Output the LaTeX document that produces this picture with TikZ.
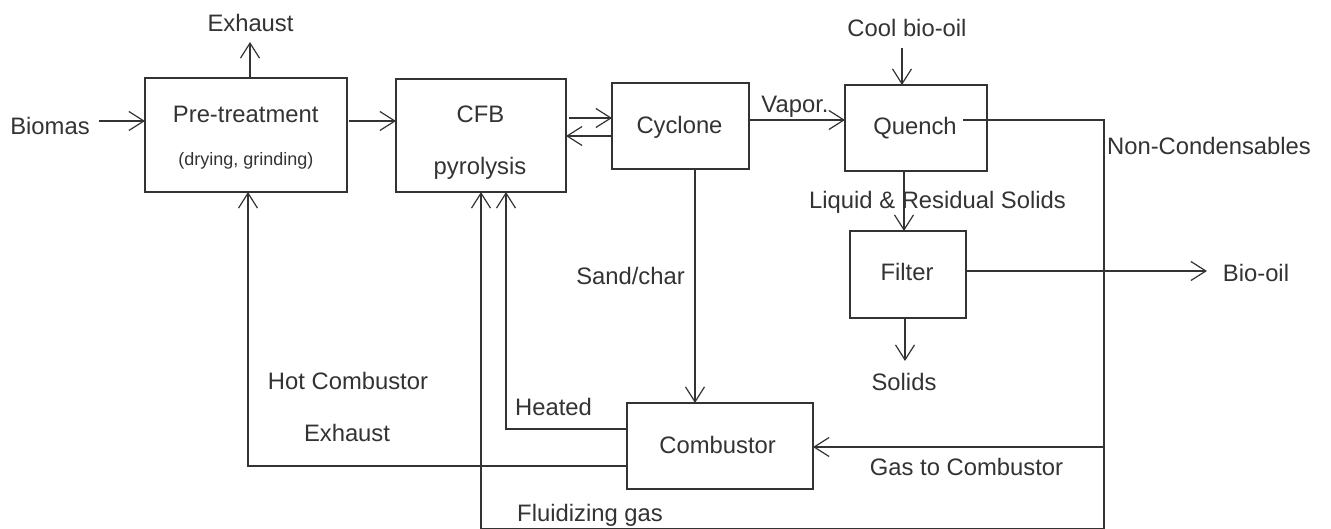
\documentclass[tikz,border=0pt]{standalone}
\usepackage{fontspec}
\setmainfont{Liberation Sans}
\usetikzlibrary{arrows.meta}
\definecolor{ink}{HTML}{333333}
\begin{document}
\begin{tikzpicture}[x=1pt,y=-1pt,
  box/.style={draw=ink,line width=1.3pt,inner sep=0pt,outer sep=0pt},
  con/.style={draw=ink,line width=1.2pt},
  arr/.style={con,-{Straight Barb[length=15pt,width=19pt,line width=1.2pt]}},
  lab/.style={inner sep=0pt,outer sep=0pt,anchor=base,text=ink,font=\fontsize{23.8}{28}\selectfont},
  small/.style={lab,font=\fontsize{18}{22}\selectfont}]
\useasboundingbox[fill=white] (0,0) rectangle (1331,529);

% boxes
\node[box,minimum width=202pt,minimum height=114pt] (pre) at (246,135) {};
\node[box,minimum width=170pt,minimum height=113pt] (cfb) at (481,135.5) {};
\node[box,minimum width=137pt,minimum height=86pt] (cyc) at (680.5,126) {};
\node[box,minimum width=142pt,minimum height=86pt] (quench) at (916,128) {};
\node[box,minimum width=116pt,minimum height=87pt] (filter) at (908,274.5) {};
\node[box,minimum width=186pt,minimum height=86pt] (comb) at (720,446) {};

% box texts
\node[lab] (tpre) at (245.7,123) {Pre-treatment};
\node[small] (tpre2) at (246,166) {(drying, grinding)};
\node[lab] (tcfb) at (480.5,123) {CFB};
\node[lab] (tcfb2) at (480,175) {pyrolysis};
\node[lab] (tcyc) at (679.5,134) {Cyclone};
\node[lab] (tq) at (915,135) {Quench};
\node[lab] (tf) at (907,281) {Filter};
\node[lab] (tc) at (717.6,453) {Combustor};

% labels
\node[lab] (lbio) at (50,135) {Biomas};
\node[lab] (lexh) at (250.5,32) {Exhaust};
\node[lab] (lvap) at (795,113) {Vapor.};
\node[lab] (lcool) at (907,37) {Cool bio-oil};
\node[lab] (lnc) at (1209,155) {Non-Condensables};
\node[lab] (lliq) at (937.5,209) {Liquid \& Residual Solids};
\node[lab] (lbo) at (1256,282) {Bio-oil};
\node[lab] (lsol) at (904,390) {Solids};
\node[lab] (lsand) at (630.5,285) {Sand/char};
\node[lab] (lhot) at (348,389) {Hot Combustor};
\node[lab] (lhot2) at (347,441) {Exhaust};
\node[lab] (lheat) at (553.5,415) {Heated};
\node[lab] (lflu) at (590,521) {Fluidizing gas};
\node[lab] (lgas) at (966.5,475) {Gas to Combustor};

% connector coordinates
\coordinate (bioin) at (99,121);
\coordinate (exh) at (250,42);
\coordinate (p1) at (349,121);
\coordinate (a1) at (569,118);
\coordinate (a2) at (0,136);
\coordinate (v) at (0,120);
\coordinate (cb) at (902,48);
\coordinate (nc1) at (963,120);
\coordinate (nc2) at (1104,120);
\coordinate (nc3) at (1104,528.6);
\coordinate (fl) at (481,528.6);
\coordinate (gs) at (1104,447);
\coordinate (bo) at (1207,271);
\coordinate (sol) at (905,361);
\coordinate (lq) at (904,0);
\coordinate (sc) at (695,0);
\coordinate (ht) at (506,429);
\coordinate (hx) at (248,466);

% connectors
\draw[arr] (bioin) -- (bioin -| pre.west);
\draw[arr] (exh |- pre.north) -- (exh);
\draw[arr] (p1) -- (p1 -| cfb.west);
\draw[arr] (a1) -- (a1 -| cyc.west);
\draw[arr] (cyc.west |- a2) -- (cfb.east |- a2);
\draw[arr] (cyc.east |- v) -- (quench.west |- v);
\draw[arr] (cb) -- (cb |- quench.north);
\draw[con] (nc1) -- (nc2) -- (nc3) -- (fl);
\draw[arr] (fl) -- (fl |- cfb.south);
\draw[arr] (gs) -- (gs -| comb.east);
\draw[arr] (quench.south -| lq) -- (filter.north -| lq);
\draw[arr] (filter.east |- bo) -- (bo);
\draw[arr] (sol |- filter.south) -- (sol);
\draw[arr] (cyc.south -| sc) -- (comb.north -| sc);
\draw[arr] (comb.west |- ht) -- (ht) -- (ht |- cfb.south);
\draw[arr] (comb.west |- hx) -- (hx) -- (hx |- pre.south);
\end{tikzpicture}
\end{document}
